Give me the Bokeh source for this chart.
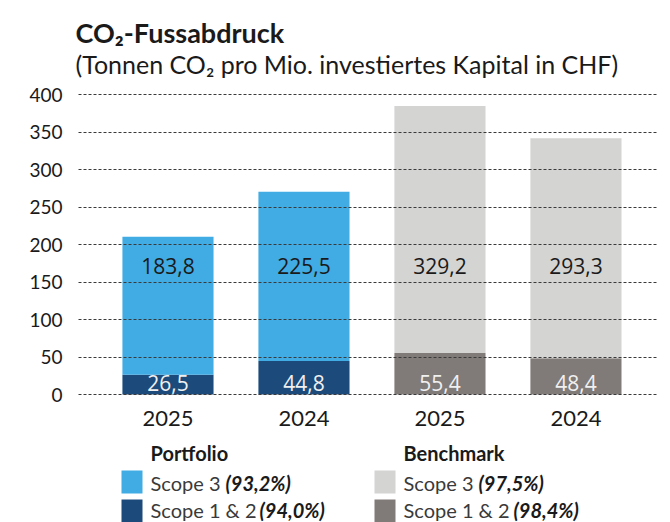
from bokeh.plotting import figure
from bokeh.models import Range1d, FixedTicker, ColumnDataSource
from bokeh.layouts import column
from bokeh.embed import file_html
from bokeh.resources import INLINE
from bokeh.core.properties import value

# ---- data ----
title_text = "CO\u2082-Fussabdruck"
subtitle_text = "(Tonnen CO\u2082 pro Mio. investiertes Kapital in CHF)"
groups = ["Portfolio", "Portfolio", "Benchmark", "Benchmark"]
years = ["2025", "2024", "2025", "2024"]
scope12 = [26.5, 44.8, 55.4, 48.4]
scope3 = [183.8, 225.5, 329.2, 293.3]
scope12_labels = ["26,5", "44,8", "55,4", "48,4"]
scope3_labels = ["183,8", "225,5", "329,2", "293,3"]
y_ticks = [0, 50, 100, 150, 200, 250, 300, 350, 400]

legend_groups = ["Portfolio", "Benchmark"]
legend_scope3_share = ["(93,2%)", "(97,5%)"]
legend_scope12_share = ["(94,0%)", "(98,4%)"]

# ---- styles ----
COL_S3 = {"Portfolio": "#41ABE3", "Benchmark": "#D4D4D3"}
COL_S12 = {"Portfolio": "#1C4B7B", "Benchmark": "#807B78"}
FONT = "Lato"
LABEL_FONT = "Open Sans"
W = 670


def blank(height, x0, x1, ml, mr):
    f = figure(width=W, height=height, x_range=Range1d(x0, x1), y_range=Range1d(height, 0),
               output_backend="svg", toolbar_location=None,
               min_border_left=ml, min_border_right=mr, min_border_top=0, min_border_bottom=0,
               x_axis_type=None, y_axis_type=None)
    f.outline_line_color = None
    f.frame_align = False
    f.xgrid.visible = False
    f.ygrid.visible = False
    return f


# ---- header ----
hd = blank(80, 0, W, 0, 0)
hd.text(x=[75], y=[32], text=[title_text], text_baseline="alphabetic",
        text_font=value(FONT), text_font_size="27px", text_font_style="bold", text_color="#1a1a1a")
hd.text(x=[75], y=[63], text=[subtitle_text], text_baseline="alphabetic",
        text_font=value(FONT), text_font_size="25px", text_color="#1a1a1a")

# ---- main chart ----
x = list(range(len(years)))
totals = [a + b for a, b in zip(scope12, scope3)]
src = ColumnDataSource(dict(
    x=x, s12=scope12, tot=totals,
    c3=[COL_S3[g] for g in groups], c12=[COL_S12[g] for g in groups],
    l3=scope3_labels, l12=scope12_labels,
    y3=[172] * len(x), y12=[15] * len(x),
))

p = figure(width=W, height=350,
           x_range=Range1d(-0.658, 3.607), y_range=Range1d(-4, 404),
           output_backend="svg", toolbar_location=None,
           min_border_left=78, min_border_right=12, min_border_top=11, min_border_bottom=33)
p.outline_line_color = None
p.frame_align = False

p.vbar(x="x", width=0.67, bottom=0, top="s12", fill_color="c12", line_color=None, source=src)
p.vbar(x="x", width=0.67, bottom="s12", top="tot", fill_color="c3", line_color=None, source=src)

p.text(x="x", y="y3", text="l3", source=src, text_align="center", text_baseline="middle",
       text_font=value(LABEL_FONT), text_font_size="21px", text_color="#1a1a1a")
p.text(x="x", y="y12", text="l12", source=src, text_align="center", text_baseline="middle",
       text_font=value(LABEL_FONT), text_font_size="21px", text_color="#f0f0f0")

p.xgrid.visible = False
p.ygrid.ticker = FixedTicker(ticks=y_ticks)
p.ygrid.grid_line_dash = "3 2"
p.ygrid.grid_line_color = "#3a3a3a"
p.ygrid.grid_line_width = 1
p.ygrid.level = "overlay"

p.yaxis.ticker = FixedTicker(ticks=y_ticks)
p.xaxis.ticker = FixedTicker(ticks=x)
p.xaxis.major_label_overrides = {i: y for i, y in zip(x, years)}
for ax in (p.xaxis, p.yaxis):
    ax.axis_line_color = None
    ax.major_tick_line_color = None
    ax.minor_tick_line_color = None
    ax.major_label_text_font = FONT
    ax.major_label_text_color = "#1a1a1a"
p.yaxis.major_label_text_font_size = "19px"
p.yaxis.major_label_standoff = 10
p.xaxis.major_label_text_font_size = "22px"
p.xaxis.major_label_standoff = 7

# ---- legend panel ----
lg = blank(92, 78, 658, 78, 12)
col_x = [150, 403]
sw_x = [121, 374]
bold3_x = [225, 478]
bold12_x = [259, 513]
lsrc = ColumnDataSource(dict(
    tx=col_x, sl=sw_x, sr=[v + 21 for v in sw_x],
    c3=[COL_S3[g] for g in legend_groups], c12=[COL_S12[g] for g in legend_groups],
    head=legend_groups, b3x=bold3_x, b12x=bold12_x,
    b3=legend_scope3_share, b12=legend_scope12_share,
    n3=["Scope 3"] * 2, n12=["Scope 1 & 2"] * 2,
))
lg.quad(left="sl", right="sr", top=40, bottom=63, fill_color="c3", line_color=None, source=lsrc)
lg.quad(left="sl", right="sr", top=69, bottom=92, fill_color="c12", line_color=None, source=lsrc)
lg.text(x="tx", y=22, text="head", source=lsrc, text_baseline="middle",
        text_font=value(FONT), text_font_size="20px", text_font_style="bold", text_color="#1a1a1a")
lg.text(x="tx", y=52, text="n3", source=lsrc, text_baseline="middle",
        text_font=value(FONT), text_font_size="20px", text_color="#3a3a3a")
lg.text(x="tx", y=79, text="n12", source=lsrc, text_baseline="middle",
        text_font=value(FONT), text_font_size="20px", text_color="#3a3a3a")
lg.text(x="b3x", y=52, text="b3", source=lsrc, text_baseline="middle",
        text_font=value(FONT), text_font_size="20px", text_font_style="bold italic", text_color="#1a1a1a")
lg.text(x="b12x", y=79, text="b12", source=lsrc, text_baseline="middle",
        text_font=value(FONT), text_font_size="20px", text_font_style="bold italic", text_color="#1a1a1a")

layout = column(hd, p, lg, spacing=0)
open("out.html", "w").write(file_html(layout, INLINE))
